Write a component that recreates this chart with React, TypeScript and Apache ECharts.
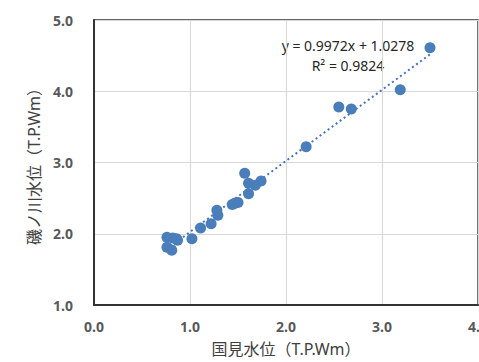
import React, { useEffect, useRef } from "react";
import * as echarts from "echarts";

const xValues = [3.5, 3.19, 2.55, 2.68, 2.21, 1.57, 1.61, 1.68, 1.74, 1.61, 1.5, 1.44, 1.47, 1.28, 1.29, 1.22, 1.11, 1.02, 0.86, 0.82, 0.76, 0.76, 0.81, 0.87];
const yValues = [4.61, 4.02, 3.78, 3.75, 3.22, 2.85, 2.71, 2.68, 2.74, 2.56, 2.44, 2.41, 2.43, 2.33, 2.26, 2.14, 2.08, 1.93, 1.93, 1.94, 1.95, 1.81, 1.77, 1.91];
const slope = 0.9972;
const intercept = 1.0278;
const equationText = "y = 0.9972x + 1.0278";
const r2Text = "R² = 0.9824";
const xTicks = [0, 1, 2, 3, 4];
const yTicks = [1, 2, 3, 4, 5];

export default function App() {
  const ref = useRef<HTMLDivElement>(null);
  useEffect(() => {
    document.body.style.margin = "0";
    const chart = echarts.init(ref.current!, null, { renderer: "svg" });
    const pts = xValues.map((x, i) => [x, yValues[i]]);
    const xmin = Math.min(...xValues);
    const xmax = Math.max(...xValues);
    const trend = [
      [xmin, slope * xmin + intercept],
      [xmax, slope * xmax + intercept],
    ];
    const font = "'Noto Sans', 'Noto Sans CJK JP', sans-serif";
    const labelStyle = {
      formatter: (v: number) => v.toFixed(1),
      fontFamily: font,
      fontSize: 14,
      fontWeight: "bold",
      color: "#595959",
    };
    chart.setOption({
      animation: false,
      grid: {
        left: 94,
        right: 1,
        top: 20,
        bottom: 57,
        show: true,
        borderColor: "#333",
        borderWidth: 1.5,
        outerBoundsMode: "none",
        containLabel: false,
      },
      xAxis: {
        type: "value",
        min: xTicks[0],
        max: xTicks[xTicks.length - 1],
        interval: 1,
        name: "国見水位（T.P.Wm）",
        nameLocation: "middle",
        nameGap: 36,
        nameTextStyle: { fontFamily: font, fontSize: 16, color: "#404040" },
        axisLine: { show: true, lineStyle: { color: "#333", width: 2 } },
        axisTick: { show: false },
        splitLine: { lineStyle: { color: "#d9d9d9", width: 1.2 } },
        axisLabel: { ...labelStyle, margin: 14 },
      },
      yAxis: {
        type: "value",
        min: yTicks[0],
        max: yTicks[yTicks.length - 1],
        interval: 1,
        name: "磯ノ川水位（T.P.Wm）",
        nameLocation: "middle",
        nameGap: 52,
        nameRotate: 90,
        nameTextStyle: { fontFamily: font, fontSize: 16, color: "#404040" },
        axisLine: { show: true, lineStyle: { color: "#333", width: 2 } },
        axisTick: { show: false },
        splitLine: { lineStyle: { color: "#d9d9d9", width: 1.2 } },
        axisLabel: { ...labelStyle, margin: 21 },
      },
      series: [
        {
          type: "line",
          data: trend,
          symbol: "none",
          lineStyle: { color: "#4472c4", width: 2, type: [2, 3] },
          z: 1,
        },
        {
          type: "scatter",
          data: pts,
          symbolSize: 11,
          itemStyle: { color: "#4a7ebb", opacity: 1 },
          z: 2,
        },
      ],
      graphic: [
        {
          type: "text",
          x: 348,
          y: 45,
          style: {
            text: equationText,
            font: `14px ${font}`,
            fill: "#262626",
            align: "center",
            verticalAlign: "middle",
          },
        },
        {
          type: "text",
          x: 348,
          y: 65,
          style: {
            text: r2Text,
            font: `14px ${font}`,
            fill: "#262626",
            align: "center",
            verticalAlign: "middle",
          },
        },
      ],
    });
    return () => chart.dispose();
  }, []);
  return <div ref={ref} style={{ width: 479, height: 362 }} />;
}
